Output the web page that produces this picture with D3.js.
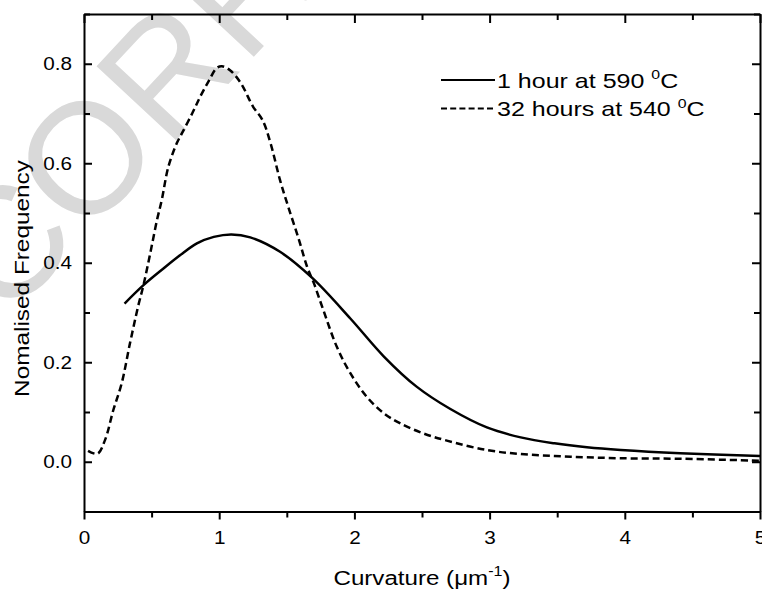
<!DOCTYPE html>
<html>
<head>
<meta charset="utf-8">
<script src="https://cdn.jsdelivr.net/npm/d3@7"></script>
<style>
  html, body { margin: 0; padding: 0; background: #fff; }
  svg { display: block; font-family: "Liberation Sans", Arial, Helvetica, sans-serif; }
</style>
</head>
<body>
<svg id="chart" width="762" height="590"></svg>
<script>
// ── Data ───────────────────────────────────────────────────────────────────
const oneHourX = [0.30, 0.44, 0.59, 0.71, 0.835, 0.96, 1.09, 1.23, 1.45, 1.69, 1.97, 2.22, 2.46, 2.71, 2.98, 3.23, 3.48, 3.72, 3.97, 4.41, 5.0];
const oneHourY = [0.318, 0.355, 0.389, 0.415, 0.439, 0.452, 0.457, 0.451, 0.422, 0.369, 0.288, 0.211, 0.151, 0.106, 0.069, 0.049, 0.037, 0.029, 0.0235, 0.017, 0.0115];

const longX = [0.03, 0.10, 0.156, 0.217, 0.279, 0.34, 0.40, 0.44, 0.49, 0.54, 0.575, 0.624, 0.686, 0.724, 0.80, 0.86, 0.92, 0.98, 1.02, 1.08, 1.16, 1.25, 1.32, 1.38, 1.45, 1.51, 1.59, 1.65, 1.70, 1.77, 1.87, 1.97, 2.09, 2.22, 2.34, 2.51, 2.69, 2.98, 3.23, 3.48, 3.72, 3.97, 4.41, 5.0];
const longY = [0.022, 0.016, 0.044, 0.104, 0.158, 0.238, 0.312, 0.355, 0.419, 0.486, 0.526, 0.593, 0.640, 0.660, 0.700, 0.734, 0.764, 0.791, 0.795, 0.787, 0.761, 0.714, 0.687, 0.640, 0.566, 0.513, 0.446, 0.392, 0.359, 0.305, 0.231, 0.178, 0.131, 0.097, 0.077, 0.057, 0.042, 0.0235, 0.0155, 0.0115, 0.009, 0.007, 0.006, 0.002];

const seriesNames = ['1 hour at 590 ', '32 hours at 540 '];
const xTicks = [0, 1, 2, 3, 4, 5];
const yTicks = [0.0, 0.2, 0.4, 0.6, 0.8];

const svg = d3.select('#chart');
const plot = { left: 84, right: 760, top: 14, bottom: 511.5 };
const STRETCH = 1.15;   // the figure's lettering is wider than Arial

const x = d3.scaleLinear().domain([0, 5]).range([plot.left, plot.right]);
const y = d3.scaleLinear().domain([-0.1, 0.9]).range([plot.bottom, plot.top]);

// ── Watermark behind everything ───────────────────────────────────────────
svg.append('text')
  .attr('transform', 'translate(-150,490) rotate(-47)')
  .attr('font-size', 158)
  .attr('fill', '#d9d9d9')
  .text('UNCORRECTED PROOF');

// ── Curves ────────────────────────────────────────────────────────────────
const curve = d3.line().x(d => x(d[0])).y(d => y(d[1])).curve(d3.curveCatmullRom.alpha(0.5));

svg.append('path')
  .datum(d3.zip(oneHourX, oneHourY))
  .attr('d', curve)
  .attr('fill', 'none').attr('stroke', '#000').attr('stroke-width', 2.5);

svg.append('path')
  .datum(d3.zip(longX, longY))
  .attr('d', curve)
  .attr('fill', 'none').attr('stroke', '#000').attr('stroke-width', 2.5)
  .attr('stroke-dasharray', '7,4');

// ── Legend ────────────────────────────────────────────────────────────────
const legend = svg.append('g');
const dashes = [null, '6,3.2'];
seriesNames.forEach((name, i) => {
  const ly = 80 + i * 28.5;
  legend.append('line')
    .attr('x1', 441).attr('x2', 495).attr('y1', ly).attr('y2', ly)
    .attr('stroke', '#000').attr('stroke-width', 2)
    .attr('stroke-dasharray', dashes[i]);
  const t = legend.append('g')
    .attr('transform', `translate(497,${ly + 7.5}) scale(1.22,1)`)
    .append('text').attr('font-size', 20.5).attr('fill', '#000');
  t.append('tspan').text(name);
  t.append('tspan').attr('font-size', 13).attr('dy', -8.5).text('0');
  t.append('tspan').attr('dy', 8.5).text('C');
});

// ── Axis titles ───────────────────────────────────────────────────────────
const xt = svg.append('g')
  .attr('transform', `translate(${(plot.left + plot.right) / 2},585) scale(${STRETCH},1)`)
  .append('text').attr('text-anchor', 'middle').attr('font-size', 21).attr('fill', '#000');
xt.append('tspan').text('Curvature (μm');
xt.append('tspan').attr('font-size', 14).attr('dy', -9).text('-1');
xt.append('tspan').attr('dy', 9).text(')');

svg.append('g')
  .attr('transform', `translate(28.5,278.5) rotate(-90) scale(1.16,1)`)
  .append('text').attr('text-anchor', 'middle').attr('font-size', 21).attr('fill', '#000')
  .text('Nomalised Frequency');

// ── Axes (drawn last, on top) ─────────────────────────────────────────────
const xAll = d3.range(0, 5.001, 0.5);
const yAll = d3.range(-0.1, 0.9001, 0.1).map(v => +v.toFixed(1));
const isMajorX = d => Math.abs(d - Math.round(d)) < 1e-6;
const isMajorY = d => Math.abs(d * 5 - Math.round(d * 5)) < 1e-6;

function styleAxis(g) {
  g.select('.domain').attr('stroke', '#000').attr('stroke-width', 2);
  g.selectAll('.tick line').attr('stroke', '#000').attr('stroke-width', 2);
  g.selectAll('.tick text').attr('fill', '#000').attr('font-size', 18);
}

// tick lines get all four end points set explicitly
function vTicks(g, len) {
  g.selectAll('.tick line').attr('x1', 0).attr('x2', 0).attr('y1', 0).attr('y2', len);
}
function hTicks(g, len) {
  g.selectAll('.tick line').attr('y1', 0).attr('y2', 0).attr('x1', 0).attr('x2', len);
}

// bottom: ticks point out
const gx = svg.append('g').attr('transform', `translate(0,${plot.bottom})`)
  .call(d3.axisBottom(x).tickValues(xAll).tickSizeOuter(0).tickSizeInner(8).tickPadding(12)
    .tickFormat(d => xTicks.includes(d) ? d3.format('d')(d) : ''))
  .call(styleAxis)
  .call(vTicks, d => isMajorX(d) ? 8 : 6);
gx.selectAll('.tick text').attr('transform', `scale(${STRETCH},1)`);

// top: ticks point in
svg.append('g').attr('transform', `translate(0,${plot.top})`)
  .call(d3.axisTop(x).tickValues(xAll).tickSizeOuter(0).tickSizeInner(-9).tickFormat(''))
  .call(styleAxis)
  .call(vTicks, d => isMajorX(d) ? 9 : 6);

// left: ticks point in
const gy = svg.append('g').attr('transform', `translate(${plot.left},0)`)
  .call(d3.axisLeft(y).tickValues(yAll).tickSizeOuter(0).tickSizeInner(-8).tickPadding(10.5)
    .tickFormat(d => yTicks.some(t => Math.abs(t - d) < 1e-6) ? d3.format('.1f')(d) : ''))
  .call(styleAxis)
  .call(hTicks, d => isMajorY(d) ? 8 : 6);
gy.selectAll('.tick text').attr('transform', `scale(${STRETCH},1)`);

// right: ticks point in
svg.append('g').attr('transform', `translate(${plot.right},0)`)
  .call(d3.axisRight(y).tickValues(yAll).tickSizeOuter(0).tickSizeInner(-8).tickFormat(''))
  .call(styleAxis)
  .call(hTicks, d => isMajorY(d) ? -8 : -6);
</script>
</body>
</html>
